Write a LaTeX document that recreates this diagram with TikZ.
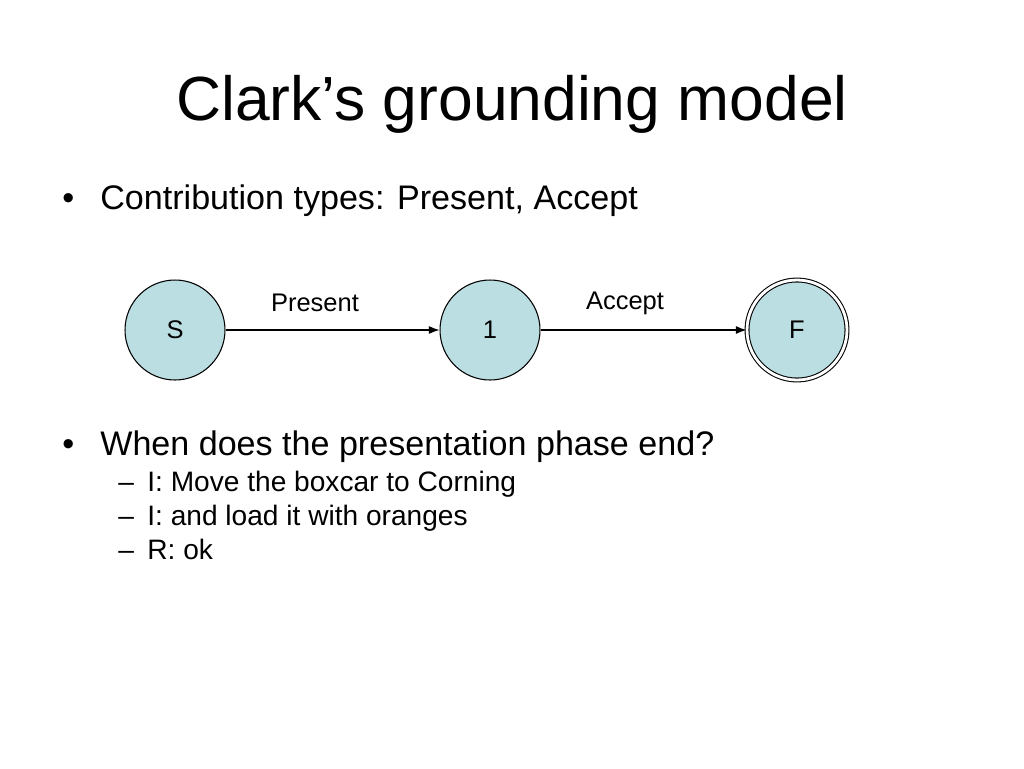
\documentclass[tikz,border=0pt]{standalone}
\usepackage{fontspec}
\setmainfont{Liberation Sans}
\usetikzlibrary{arrows.meta}
\definecolor{stfill}{RGB}{187,222,226}
\begin{document}
\begin{tikzpicture}[x=0.02cm, y=-0.02cm,
        stnode/.style={circle, draw, line width=0.6pt, fill=stfill, minimum size=2cm, inner sep=0pt, font=\fontsize{14.5}{17}\selectfont},
        edgelabel/.style={font=\fontsize{14.5}{17}\selectfont, anchor=base},
        toptext/.style={anchor=base west, inner sep=0pt, font=\fontsize{19.4}{23}\selectfont},
        subtext/.style={anchor=base west, inner sep=0pt, font=\fontsize{16}{19}\selectfont}]
        \useasboundingbox[fill=white] (0,0) rectangle (1024,768);
        % title
        \node[anchor=base, font=\fontsize{35.5}{40}\selectfont] (title) at (512,120) {Clark’s grounding model};
        % first bullet
        \node[toptext] (b1dot) at (62,209) {•};
        \node[toptext] (b1) at (100,209) {Contribution types: Present, Accept};
        % states
        \node[stnode] (s) at (175,330) {S};
        \node[stnode] (one) at (490,330) {1};
        \node[stnode, double, double distance=1.6pt] (f) at (797,330) {F};
        \draw[-{Latex[length=6pt, width=4.5pt]}, line width=0.6pt] (s) -- (one);
        \draw[-{Latex[length=6pt, width=4.5pt]}, line width=0.6pt] (one) -- (f);
        \node[edgelabel] (present) at (315,311) {Present};
        \node[edgelabel] (accept) at (625,309) {Accept};
        % second bullet
        \node[toptext] (b2dot) at (62,455) {•};
        \node[toptext] (b2) at (100,455) {When does the presentation phase end?};
        \node[subtext] (d1) at (118,491) {–};
        \node[subtext] (i1) at (147,491) {I: Move the boxcar to Corning};
        \node[subtext] (d2) at (118,525) {–};
        \node[subtext] (i2) at (147,525) {I: and load it with oranges};
        \node[subtext] (d3) at (118,559) {–};
        \node[subtext] (i3) at (147,559) {R: ok};
\end{tikzpicture}
\end{document}
